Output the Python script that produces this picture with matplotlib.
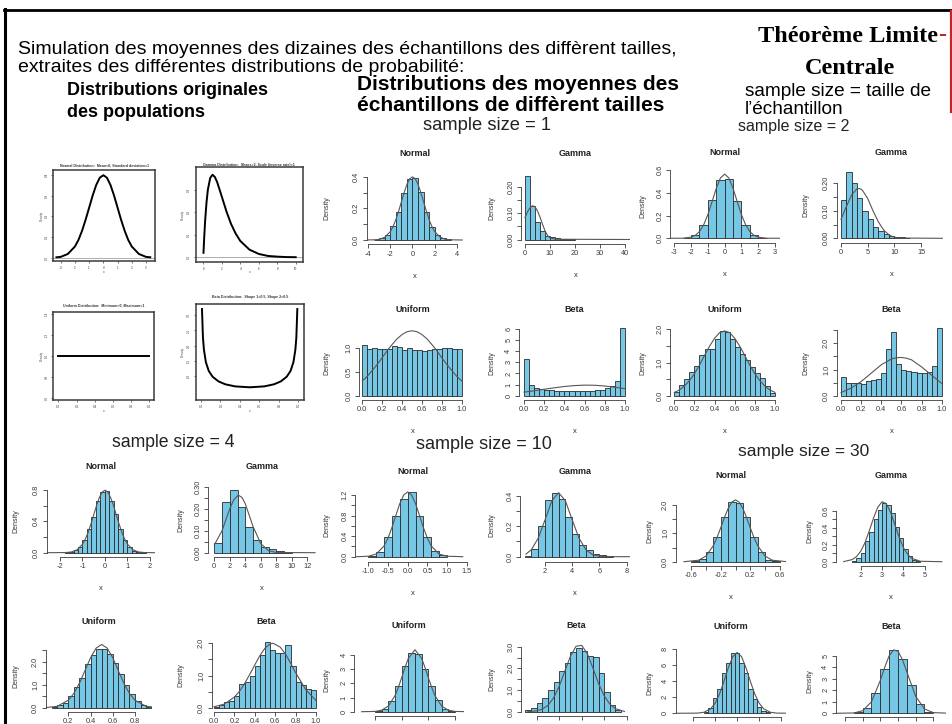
import matplotlib
matplotlib.use("Agg")
import matplotlib.pyplot as plt
from matplotlib.lines import Line2D

plt.rcParams['font.family'] = ['Liberation Sans', 'DejaVu Sans']

# ---------------------------------------------------------------- data
# courbes des populations d'origine
orig_normal_x = [-3.3, -3.0, -2.5, -2.0, -1.75, -1.5, -1.25, -1.0, -0.75, -0.5, -0.25, 0.0,
                 0.25, 0.5, 0.75, 1.0, 1.25, 1.5, 1.75, 2.0, 2.5, 3.0, 3.3]
orig_normal_y = [0.002, 0.004, 0.018, 0.054, 0.086, 0.130, 0.183, 0.242, 0.301, 0.352, 0.387, 0.399,
                 0.387, 0.352, 0.301, 0.242, 0.183, 0.130, 0.086, 0.054, 0.018, 0.004, 0.002]
orig_gamma_x = [0.02, 0.1, 0.2, 0.35, 0.5, 0.75, 1.0, 1.25, 1.5, 2.0, 2.5, 3.0, 3.5, 4.0, 5.0,
                6.0, 7.0, 8.0, 9.0, 10.0]
orig_gamma_y = [0.02, 0.09, 0.164, 0.246, 0.303, 0.354, 0.368, 0.358, 0.335, 0.271, 0.205, 0.149,
                0.106, 0.073, 0.034, 0.015, 0.006, 0.003, 0.001, 0.0005]
orig_uniform_x = [0.0, 1.0]
orig_uniform_y = [1.0, 1.0]
orig_beta_x = [0.01, 0.02, 0.03, 0.05, 0.08, 0.12, 0.18, 0.25, 0.35, 0.5, 0.65, 0.75, 0.82, 0.88,
               0.92, 0.95, 0.97, 0.98, 0.99]
orig_beta_y = [3.2, 2.27, 1.87, 1.46, 1.17, 0.98, 0.83, 0.735, 0.667, 0.637, 0.667, 0.735, 0.83,
               0.98, 1.17, 1.46, 1.87, 2.27, 3.2]

orig_titles = ["Normal Distribution:  Mean=0, Standard deviation=1",
               "Gamma Distribution:  Shape=2, Scale (inverse rate)=1",
               "Uniform Distribution:  Minimum=0, Maximum=1",
               "Beta Distribution:  Shape 1=0.5, Shape 2=0.5"]
orig_normal_xticks = ["-3", "-2", "-1", "0", "1", "2", "3"]
orig_normal_yticks = ["0.0", "0.1", "0.2", "0.3", "0.4"]
orig_gamma_xticks = ["0", "2", "4", "6", "8", "10"]
orig_gamma_yticks = ["0.0", "0.1", "0.2", "0.3"]
orig_uniform_xticks = ["0.0", "0.2", "0.4", "0.6", "0.8", "1.0"]
orig_uniform_yticks = ["0.6", "0.8", "1.0", "1.2", "1.4"]
orig_beta_xticks = ["0.0", "0.2", "0.4", "0.6", "0.8", "1.0"]
orig_beta_yticks = ["1.0", "1.5", "2.0", "2.5", "3.0"]

# histogrammes : bins = (début, largeur), dens = hauteurs, fit = courbe normale ajustée
# ticks : texte = graduation étiquetée, nombre = graduation sans étiquette
ss1_normal_bins = (-3.5, 0.5)
ss1_normal_dens = [0.003, 0.01, 0.033, 0.09, 0.18, 0.30, 0.385, 0.39, 0.305, 0.175, 0.08, 0.03, 0.01, 0.004]
ss1_normal_fit_x = [-4.6, -3.5, -3.0, -2.5, -2.0, -1.75, -1.5, -1.25, -1.0, -0.75, -0.5, -0.25, 0.0,
                    0.25, 0.5, 0.75, 1.0, 1.25, 1.5, 1.75, 2.0, 2.5, 3.0, 3.5, 4.5]
ss1_normal_fit_y = [0.0, 0.001, 0.004, 0.018, 0.054, 0.086, 0.13, 0.183, 0.242, 0.301, 0.352, 0.387, 0.399,
                    0.387, 0.352, 0.301, 0.242, 0.183, 0.13, 0.086, 0.054, 0.018, 0.004, 0.001, 0.0]
ss1_normal_xticks = ["-4", "-2", "0", "2", "4"]
ss1_normal_yticks = ["0.0", 0.1, "0.2", 0.3, "0.4"]

ss1_gamma_bins = (0, 2)
ss1_gamma_dens = [0.24, 0.127, 0.067, 0.033, 0.015, 0.008, 0.004, 0.003, 0.002, 0.002]
ss1_gamma_fit_x = [0, 1, 2, 3, 4, 5, 6, 7, 8, 9, 10, 12, 42]
ss1_gamma_fit_y = [0.083, 0.105, 0.12, 0.128, 0.124, 0.108, 0.085, 0.058, 0.033, 0.015, 0.006, 0.001, 0.0]
ss1_gamma_xticks = ["0", "10", "20", "30", "40"]
ss1_gamma_yticks = ["0.00", 0.05, "0.10", 0.15, "0.20"]

ss1_uniform_bins = (0, 0.05)
ss1_uniform_dens = [1.08, 0.99, 1.0, 0.98, 0.99, 0.98, 1.05, 1.02, 0.97, 1.0, 0.96, 0.96, 0.95, 0.96,
                    0.98, 0.98, 1.0, 1.0, 0.99, 0.99]
ss1_uniform_fit_x = [0.0, 0.05, 0.1, 0.15, 0.2, 0.25, 0.3, 0.35, 0.4, 0.45, 0.5, 0.55, 0.6, 0.65, 0.7,
                     0.75, 0.8, 0.85, 0.9, 0.95, 1.0]
ss1_uniform_fit_y = [0.31, 0.41, 0.53, 0.66, 0.8, 0.95, 1.08, 1.2, 1.29, 1.35, 1.37, 1.35, 1.29, 1.2,
                     1.08, 0.95, 0.8, 0.66, 0.53, 0.41, 0.31]
ss1_uniform_xticks = ["0.0", "0.2", "0.4", "0.6", "0.8", "1.0"]
ss1_uniform_yticks = ["0.0", "0.5", "1.0"]

ss1_beta_bins = (0, 0.05)
ss1_beta_dens = [3.3, 1.0, 0.65, 0.62, 0.55, 0.5, 0.45, 0.45, 0.42, 0.4, 0.4, 0.42, 0.45, 0.45, 0.5,
                 0.55, 0.72, 0.85, 1.3, 6.1]
ss1_beta_fit_x = [0.0, 0.1, 0.2, 0.3, 0.4, 0.5, 0.6, 0.7, 0.8, 0.9, 1.0]
ss1_beta_fit_y = [0.32, 0.44, 0.58, 0.71, 0.83, 0.91, 0.95, 0.94, 0.87, 0.76, 0.63]
ss1_beta_xticks = ["0.0", "0.2", "0.4", "0.6", "0.8", "1.0"]
ss1_beta_yticks = ["0", "1", "2", "3", "4", "5", "6"]

ss2_normal_bins = (-2.5, 0.5)
ss2_normal_dens = [0.005, 0.03, 0.12, 0.34, 0.51, 0.52, 0.33, 0.12, 0.03, 0.006]
ss2_normal_fit_x = [-3.4, -2.5, -2.0, -1.75, -1.5, -1.25, -1.0, -0.75, -0.5, -0.25, 0.0, 0.25, 0.5,
                    0.75, 1.0, 1.25, 1.5, 1.75, 2.0, 2.5, 3.4]
ss2_normal_fit_y = [0.0, 0.001, 0.01, 0.026, 0.059, 0.118, 0.208, 0.321, 0.439, 0.53, 0.564, 0.53,
                    0.439, 0.321, 0.208, 0.118, 0.059, 0.026, 0.01, 0.001, 0.0]
ss2_normal_xticks = ["-3", "-2", "-1", "0", "1", "2", "3"]
ss2_normal_yticks = ["0.0", "0.2", "0.4", "0.6"]

ss2_gamma_bins = (0, 1)
ss2_gamma_dens = [0.14, 0.24, 0.2, 0.145, 0.1, 0.07, 0.04, 0.025, 0.015, 0.01, 0.006, 0.004, 0.002]
ss2_gamma_fit_x = [0, 1, 2, 3, 3.5, 4, 5, 6, 7, 8, 9, 10, 11, 19]
ss2_gamma_fit_y = [0.069, 0.115, 0.158, 0.18, 0.181, 0.175, 0.145, 0.1, 0.06, 0.03, 0.012, 0.004, 0.001, 0.0]
ss2_gamma_xticks = ["0", "5", "10", "15"]
ss2_gamma_yticks = ["0.00", 0.05, "0.10", 0.15, "0.20"]

ss2_uniform_bins = (0, 0.05)
ss2_uniform_dens = [0.12, 0.32, 0.49, 0.7, 0.89, 1.23, 1.41, 1.41, 1.71, 1.95, 1.93, 1.72, 1.48, 1.26,
                    1.08, 0.87, 0.67, 0.52, 0.29, 0.07]
ss2_uniform_fit_x = [0.0, 0.05, 0.1, 0.15, 0.2, 0.25, 0.3, 0.35, 0.4, 0.45, 0.5, 0.55, 0.6, 0.65, 0.7,
                     0.75, 0.8, 0.85, 0.9, 0.95, 1.0]
ss2_uniform_fit_y = [0.1, 0.17, 0.29, 0.45, 0.66, 0.92, 1.21, 1.49, 1.73, 1.9, 1.95, 1.9, 1.73, 1.49,
                     1.21, 0.92, 0.66, 0.45, 0.29, 0.17, 0.1]
ss2_uniform_xticks = ["0.0", "0.2", "0.4", "0.6", "0.8", "1.0"]
ss2_uniform_yticks = ["0.0", 0.5, "1.0", 1.5, "2.0"]

ss2_beta_bins = (0, 0.05)
ss2_beta_dens = [0.7, 0.5, 0.5, 0.5, 0.45, 0.55, 0.6, 0.62, 0.85, 1.8, 2.45, 1.2, 1.0, 0.95, 0.9,
                 0.88, 0.85, 0.9, 1.15, 2.6]
ss2_beta_fit_x = [0.0, 0.1, 0.2, 0.3, 0.4, 0.5, 0.55, 0.6, 0.65, 0.7, 0.8, 0.9, 1.0]
ss2_beta_fit_y = [0.12, 0.29, 0.54, 0.86, 1.18, 1.4, 1.45, 1.46, 1.43, 1.37, 1.1, 0.78, 0.47]
ss2_beta_xticks = ["0.0", "0.2", "0.4", "0.6", "0.8", "1.0"]
ss2_beta_yticks = ["0.0", 0.5, "1.0", 1.5, "2.0", 2.5]

ss4_normal_bins = (-1.8, 0.2)
ss4_normal_dens = [0.003, 0.012, 0.03, 0.07, 0.16, 0.30, 0.46, 0.66, 0.77, 0.79, 0.66, 0.49, 0.30,
                   0.16, 0.07, 0.025, 0.01, 0.003]
ss4_normal_fit_x = [-2.6, -1.75, -1.5, -1.25, -1.0, -0.875, -0.75, -0.625, -0.5, -0.375, -0.25, -0.125,
                    0.0, 0.125, 0.25, 0.375, 0.5, 0.625, 0.75, 0.875, 1.0, 1.25, 1.5, 1.75, 2.2]
ss4_normal_fit_y = [0.0, 0.002, 0.009, 0.035, 0.108, 0.173, 0.259, 0.366, 0.484, 0.603, 0.704, 0.773,
                    0.798, 0.773, 0.704, 0.603, 0.484, 0.366, 0.259, 0.173, 0.108, 0.035, 0.009, 0.002, 0.0]
ss4_normal_xticks = ["-2", "-1", "0", "1", "2"]
ss4_normal_yticks = ["0.0", 0.2, "0.4", 0.6, "0.8"]

ss4_gamma_bins = (0, 1)
ss4_gamma_dens = [0.045, 0.23, 0.285, 0.21, 0.115, 0.06, 0.025, 0.015, 0.007, 0.004]
ss4_gamma_fit_x = [0, 1, 2, 2.5, 3.1, 3.6, 4, 5, 6, 7, 8, 13]
ss4_gamma_fit_y = [0.035, 0.1, 0.2, 0.24, 0.262, 0.25, 0.222, 0.119, 0.041, 0.009, 0.001, 0.0]
ss4_gamma_xticks = ["0", "2", "4", "6", "8", "10", "12"]
ss4_gamma_yticks = ["0.00", 0.05, "0.10", 0.15, "0.20", 0.25, "0.30"]

ss4_uniform_bins = (0.05, 0.05)
ss4_uniform_dens = [0.04, 0.1, 0.22, 0.5, 0.9, 1.3, 1.9, 2.3, 2.55, 2.55, 2.35, 1.95, 1.45, 1.0, 0.6,
                    0.3, 0.13, 0.04]
ss4_uniform_fit_x = [0.0, 0.1, 0.2, 0.25, 0.3, 0.35, 0.4, 0.45, 0.5, 0.55, 0.6, 0.65, 0.7, 0.75, 0.8,
                     0.9, 1.0]
ss4_uniform_fit_y = [0.007, 0.061, 0.324, 0.62, 1.06, 1.61, 2.17, 2.59, 2.75, 2.59, 2.17, 1.61, 1.06,
                     0.62, 0.324, 0.061, 0.007]
ss4_uniform_xticks = ["0.2", "0.4", "0.6", "0.8"]
ss4_uniform_yticks = ["0.0", 0.5, "1.0", 1.5, "2.0", 2.5]

ss4_beta_bins = (0, 0.05)
ss4_beta_dens = [0.03, 0.08, 0.17, 0.21, 0.36, 0.74, 0.81, 1.0, 1.28, 1.63, 2.04, 1.79, 1.69, 1.69,
                 1.95, 1.31, 0.8, 0.69, 0.57, 0.54]
ss4_beta_fit_x = [0.0, 0.1, 0.2, 0.25, 0.3, 0.35, 0.4, 0.45, 0.5, 0.55, 0.58, 0.65, 0.7, 0.75, 0.8,
                  0.9, 1.0]
ss4_beta_fit_y = [0.03, 0.11, 0.33, 0.51, 0.75, 1.03, 1.33, 1.62, 1.85, 1.98, 2.0, 1.88, 1.67, 1.39,
                  1.09, 0.56, 0.22]
ss4_beta_xticks = ["0.0", "0.2", "0.4", "0.6", "0.8", "1.0"]
ss4_beta_yticks = ["0.0", 0.5, "1.0", 1.5, "2.0"]

ss10_normal_bins = (-1.0, 0.2)
ss10_normal_dens = [0.01, 0.09, 0.38, 0.8, 1.13, 1.25, 0.8, 0.38, 0.11, 0.03]
ss10_normal_fit_x = [-1.3, -1.0, -0.8, -0.6, -0.5, -0.4, -0.3, -0.2, -0.1, 0.0, 0.1, 0.2, 0.3, 0.4,
                     0.5, 0.6, 0.8, 1.0, 1.4]
ss10_normal_fit_y = [0.0, 0.009, 0.051, 0.208, 0.361, 0.566, 0.803, 1.032, 1.199, 1.26, 1.199, 1.032,
                     0.803, 0.566, 0.361, 0.208, 0.051, 0.009, 0.0]
ss10_normal_xticks = ["-1.0", "-0.5", "0.0", "0.5", "1.0", "1.5"]
ss10_normal_yticks = ["0.0", 0.2, "0.4", 0.6, "0.8", 1.0, "1.2"]

ss10_gamma_bins = (0.5, 0.5)
ss10_gamma_dens = [0.005, 0.05, 0.2, 0.37, 0.42, 0.38, 0.26, 0.15, 0.08, 0.045, 0.02, 0.01, 0.005]
ss10_gamma_fit_x = [0.6, 1.0, 1.5, 2.0, 2.5, 3.0, 3.5, 4.0, 4.5, 5.0, 5.5, 6.0, 7.0, 8.2]
ss10_gamma_fit_y = [0.017, 0.046, 0.121, 0.241, 0.366, 0.42, 0.366, 0.241, 0.121, 0.046, 0.013, 0.003,
                    0.0, 0.0]
ss10_gamma_xticks = ["2", "4", "6", "8"]
ss10_gamma_yticks = ["0.0", 0.1, "0.2", 0.3, "0.4"]

ss10_uniform_bins = (0.2, 0.05)
ss10_uniform_dens = [0.05, 0.22, 0.72, 1.84, 3.2, 4.15, 4.1, 3.0, 1.82, 0.8, 0.22, 0.05]
ss10_uniform_fit_x = [0.1, 0.2, 0.25, 0.3, 0.35, 0.375, 0.4, 0.425, 0.45, 0.5, 0.55, 0.575, 0.6, 0.625,
                      0.65, 0.7, 0.75, 0.8, 0.9]
ss10_uniform_fit_y = [0.0, 0.02, 0.103, 0.397, 1.13, 1.71, 2.4, 3.12, 3.76, 4.37, 3.76, 3.12, 2.4, 1.71,
                      1.13, 0.397, 0.103, 0.02, 0.0]
ss10_uniform_xticks = [0.2, 0.4, 0.6, 0.8]
ss10_uniform_yticks = ["0", "1", "2", "3", "4"]

ss10_beta_bins = (0.1, 0.05)
ss10_beta_dens = [0.08, 0.18, 0.38, 0.62, 1.0, 1.38, 1.88, 2.23, 2.77, 2.92, 2.8, 2.57, 2.54, 1.77,
                  0.92, 0.3, 0.08]
ss10_beta_fit_x = [0.12, 0.2, 0.25, 0.3, 0.35, 0.4, 0.45, 0.5, 0.55, 0.6, 0.65, 0.7, 0.75, 0.8, 0.85,
                   0.9, 0.98]
ss10_beta_fit_y = [0.0, 0.04, 0.118, 0.293, 0.632, 1.17, 1.87, 2.56, 3.02, 3.06, 2.68, 2.01, 1.3, 0.73,
                   0.35, 0.14, 0.01]
ss10_beta_xticks = [0.2, 0.4, 0.6, 0.8, 1.0]
ss10_beta_yticks = ["0.0", 0.5, "1.0", 1.5, "2.0", 2.5, "3.0"]

ss30_normal_bins = (-0.6, 0.1)
ss30_normal_dens = [0.02, 0.08, 0.33, 0.86, 1.56, 2.09, 2.07, 1.56, 0.86, 0.33, 0.06, 0.02]
ss30_normal_fit_x = [-0.7, -0.5, -0.4, -0.3, -0.25, -0.2, -0.15, -0.1, -0.05, 0.0, 0.05, 0.1, 0.15,
                     0.2, 0.25, 0.3, 0.4, 0.5, 0.7]
ss30_normal_fit_y = [0.0, 0.052, 0.2, 0.57, 0.857, 1.2, 1.56, 1.88, 2.1, 2.18, 2.1, 1.88, 1.56, 1.2,
                     0.857, 0.57, 0.2, 0.052, 0.0]
ss30_normal_xticks = ["-0.6", -0.4, "-0.2", 0.0, "0.2", 0.4, "0.6"]
ss30_normal_yticks = ["0.0", 0.5, "1.0", 1.5, "2.0"]

ss30_gamma_bins = (1.6, 0.2)
ss30_gamma_dens = [0.01, 0.047, 0.1, 0.24, 0.35, 0.5, 0.61, 0.7, 0.67, 0.58, 0.41, 0.28, 0.15, 0.07,
                   0.02, 0.01]
ss30_gamma_fit_x = [1.2, 1.6, 1.8, 2.0, 2.2, 2.4, 2.6, 2.8, 3.0, 3.2, 3.4, 3.6, 3.8, 4.0, 4.2, 4.4,
                    4.8, 5.8]
ss30_gamma_fit_y = [0.001, 0.025, 0.059, 0.123, 0.225, 0.363, 0.515, 0.644, 0.709, 0.687, 0.586, 0.439,
                    0.29, 0.168, 0.087, 0.039, 0.005, 0.0]
ss30_gamma_xticks = ["2", "3", "4", "5"]
ss30_gamma_yticks = ["0.0", 0.1, "0.2", 0.3, "0.4", 0.5, "0.6"]

ss30_uniform_bins = (0.35, 0.02)
ss30_uniform_dens = [0.1, 0.6, 1.9, 3.0, 5.0, 6.3, 7.5, 7.5, 6.3, 5.0, 3.0, 1.8, 0.8, 0.3, 0.1]
ss30_uniform_fit_x = [0.2, 0.32, 0.35, 0.38, 0.4, 0.42, 0.44, 0.46, 0.48, 0.5, 0.52, 0.54, 0.56, 0.58,
                      0.6, 0.62, 0.65, 0.68, 0.8]
ss30_uniform_fit_y = [0.0, 0.022, 0.132, 0.567, 1.25, 2.39, 3.96, 5.67, 7.04, 7.57, 7.04, 5.67, 3.96,
                      2.39, 1.25, 0.567, 0.132, 0.022, 0.0]
ss30_uniform_xticks = [0.3, 0.4, 0.5, 0.6, 0.7]
ss30_uniform_yticks = ["0", "2", "4", "6", "8"]

ss30_beta_bins = (0.25, 0.05)
ss30_beta_dens = [0.08, 0.5, 1.75, 3.85, 5.5, 4.7, 2.45, 0.8, 0.15]
ss30_beta_fit_x = [0.15, 0.25, 0.3, 0.35, 0.4, 0.425, 0.45, 0.475, 0.5, 0.525, 0.55, 0.6, 0.65, 0.7, 0.8]
ss30_beta_fit_y = [0.0, 0.03, 0.22, 1.0, 2.85, 4.0, 4.99, 5.5, 5.39, 4.67, 3.6, 1.48, 0.376, 0.06, 0.0]
ss30_beta_xticks = [0.2, 0.3, 0.4, 0.5, 0.6, 0.7]
ss30_beta_yticks = ["0", "1", "2", "3", "4", "5"]

# ---------------------------------------------------------------- mise en page (pixels)
W, H = 953, 724
BAR = "#76c6e6"
EDGE = "#2a2a2a"
FIT = "#5b5555"
AXC = "#3a3a3a"

fig = plt.figure(figsize=(W / 100, H / 100), dpi=100)
fig.patch.set_facecolor("white")


def fx(px):
    return px / W


def fy(py):
    return 1 - py / H


def make_axes(box, xcal, ycal):
    L, R, T, B = box
    (xv0, xp0), (xv1, xp1) = xcal
    sx = (xp1 - xp0) / (xv1 - xv0)
    (yv0, yp0), (yv1, yp1) = ycal
    sy = (yp0 - yp1) / (yv1 - yv0)
    ax = fig.add_axes([fx(L), fy(B), (R - L) / W, (B - T) / H])
    ax.set_xlim(xv0 + (L - xp0) / sx, xv0 + (R - xp0) / sx)
    ax.set_ylim(yv0 - (B - yp0) / sy, yv0 + (yp0 - T) / sy)
    ax.patch.set_visible(False)
    return ax


def split_ticks(spec):
    return [float(t) for t in spec], [t if isinstance(t, str) else "" for t in spec]


def set_ticks(ax, xt, yt, size, length, lw):
    xp, xl = split_ticks(xt)
    yp, yl = split_ticks(yt)
    ax.set_xticks(xp)
    ax.set_xticklabels(xl)
    ax.set_yticks(yp)
    ax.set_yticklabels(yl)
    ax.tick_params(direction="out", length=length, width=lw, colors=AXC, labelsize=size, pad=1.8)
    ax.tick_params(axis="y", labelrotation=90)
    for lab in ax.get_yticklabels():
        lab.set_va("center")
    return xp, yp


def hist_panel(title, bins, dens, fit_x, fit_y, xt, yt, box, xcal, ycal, dens_x):
    L, R, T, B = box
    ax = make_axes(box, xcal, ycal)
    start, width = bins
    lefts = [start + i * width for i in range(len(dens))]
    ax.bar(lefts, dens, width=width, align="edge", color=BAR, edgecolor=EDGE, linewidth=0.6)
    ax.plot(fit_x, fit_y, color=FIT, lw=0.8)
    xp, yp = set_ticks(ax, xt, yt, 5.3, 3, 0.6)
    for s in ("top", "right"):
        ax.spines[s].set_visible(False)
    for s in ("left", "bottom"):
        ax.spines[s].set_color(AXC)
        ax.spines[s].set_linewidth(0.6)
    ax.spines["bottom"].set_bounds(xp[0], xp[-1])
    ax.spines["left"].set_bounds(yp[0], yp[-1])
    cx = (L + R) / 2
    fig.text(fx(cx), fy(B - 90.5), title, ha="center", va="center", fontsize=6.5,
             fontweight="bold", color="#222222")
    fig.text(fx(dens_x), fy((T + B) / 2), "Density", rotation=90, ha="center", va="center",
             fontsize=5, color="#333333")
    if B + 32 < H:
        fig.text(fx(cx), fy(B + 32), "x", ha="center", va="center", fontsize=5.5, color="#333333")


def orig_panel(title, cx_, cy_, xt, yt, box, xcal, ycal, title_y, dens_x, xlab_y, base=True):
    L, R, T, B = box
    ax = make_axes(box, xcal, ycal)
    if base:
        ax.axhline(0, color="#a0a0a0", lw=0.6)
    ax.plot(cx_, cy_, color="black", lw=1.4)
    set_ticks(ax, xt, yt, 2.2, 1.5, 0.5)
    for s in ax.spines.values():
        s.set_color("#3a3a3a")
        s.set_linewidth(1.1)
    fig.text(fx((L + R) / 2), fy(title_y), title, ha="center", va="center", fontsize=2.6,
             fontweight="bold", color="#333333")
    fig.text(fx(dens_x), fy((T + B) / 2), "Density", rotation=90, ha="center", va="center",
             fontsize=2.2, color="#444444")
    fig.text(fx((L + R) / 2), fy(xlab_y), "x", ha="center", va="center", fontsize=2.4, color="#444444")


# populations d'origine
orig_panel(orig_titles[0], orig_normal_x, orig_normal_y, orig_normal_xticks, orig_normal_yticks,
           (53.3, 155, 170, 261), ((-3, 60.7), (3, 146)), ((0, 257.7), (0.4, 175)), 165, 41.7, 272)
orig_panel(orig_titles[1], orig_gamma_x, orig_gamma_y, orig_gamma_xticks, orig_gamma_yticks,
           (195.7, 303, 167, 262), ((0, 203.3), (10, 295.7)), ((0, 257.3), (0.3, 190)), 165, 183, 272)
orig_panel(orig_titles[2], orig_uniform_x, orig_uniform_y, orig_uniform_xticks, orig_uniform_yticks,
           (53.3, 154, 311.7, 400), ((0, 58.3), (1, 149.3)), ((0.6, 398.3), (1.4, 314.3)), 305, 41.7, 411,
           base=False)
orig_panel(orig_titles[3], orig_beta_x, orig_beta_y, orig_beta_xticks, orig_beta_yticks,
           (195.7, 304, 304.3, 400), ((0, 201), (1, 298.3)), ((0.637, 387.3), (3.2, 309)), 296.7, 183, 411,
           base=False)

panels = [
    ("Normal", ss1_normal_bins, ss1_normal_dens, ss1_normal_fit_x, ss1_normal_fit_y, ss1_normal_xticks,
     ss1_normal_yticks, (366.7, 463, 172, 244), ((-4, 368.3), (4, 456.7)), ((0, 240), (0.4, 176.7)), 327),
    ("Gamma", ss1_gamma_bins, ss1_gamma_dens, ss1_gamma_fit_x, ss1_gamma_fit_y, ss1_gamma_xticks,
     ss1_gamma_yticks, (521, 630, 172, 243.5), ((0, 525), (40, 625)), ((0, 239.5), (0.2, 186.7)), 492),
    ("Uniform", ss1_uniform_bins, ss1_uniform_dens, ss1_uniform_fit_x, ss1_uniform_fit_y,
     ss1_uniform_xticks, ss1_uniform_yticks, (359, 466, 326, 399.5), ((0, 362.3), (1, 461.7)),
     ((0, 395.7), (1, 348.3)), 327),
    ("Beta", ss1_beta_bins, ss1_beta_dens, ss1_beta_fit_x, ss1_beta_fit_y, ss1_beta_xticks,
     ss1_beta_yticks, (519, 630, 326, 399.5), ((0, 524), (1, 625)), ((0, 395.7), (6, 329)), 492),
    ("Normal", ss2_normal_bins, ss2_normal_dens, ss2_normal_fit_x, ss2_normal_fit_y, ss2_normal_xticks,
     ss2_normal_yticks, (670, 780, 170, 242.7), ((-3, 674.3), (3, 775)), ((0, 238.3), (0.6, 170)), 643),
    ("Gamma", ss2_gamma_bins, ss2_gamma_dens, ss2_gamma_fit_x, ss2_gamma_fit_y, ss2_gamma_xticks,
     ss2_gamma_yticks, (836.7, 946, 168, 242.7), ((0, 841), (15, 921)), ((0, 238.3), (0.2, 183.3)), 806),
    ("Uniform", ss2_uniform_bins, ss2_uniform_dens, ss2_uniform_fit_x, ss2_uniform_fit_y,
     ss2_uniform_xticks, ss2_uniform_yticks, (670, 779, 326, 399.5), ((0, 674.3), (1, 775)),
     ((0, 395.7), (2, 329.3)), 643),
    ("Beta", ss2_beta_bins, ss2_beta_dens, ss2_beta_fit_x, ss2_beta_fit_y, ss2_beta_xticks,
     ss2_beta_yticks, (836.7, 946, 326, 399.5), ((0, 841), (1, 941.7)), ((0, 395.7), (2, 343.3)), 806),
    ("Normal", ss4_normal_bins, ss4_normal_dens, ss4_normal_fit_x, ss4_normal_fit_y, ss4_normal_xticks,
     ss4_normal_yticks, (46.7, 155, 485, 556.7), ((-2, 60), (2, 150)), ((0, 552.7), (0.8, 490)), 16),
    ("Gamma", ss4_gamma_bins, ss4_gamma_dens, ss4_gamma_fit_x, ss4_gamma_fit_y, ss4_gamma_xticks,
     ss4_gamma_yticks, (208.3, 316, 484, 556.7), ((0, 214.3), (12, 307.3)), ((0, 552.7), (0.3, 486.7)), 181),
    ("Uniform", ss4_uniform_bins, ss4_uniform_dens, ss4_uniform_fit_x, ss4_uniform_fit_y,
     ss4_uniform_xticks, ss4_uniform_yticks, (45.7, 152, 640, 711.7), ((0.2, 68.3), (0.8, 135)),
     ((0, 707.7), (2, 661.7)), 16),
    ("Beta", ss4_beta_bins, ss4_beta_dens, ss4_beta_fit_x, ss4_beta_fit_y, ss4_beta_xticks,
     ss4_beta_yticks, (211.7, 320, 638, 711.7), ((0, 214), (1, 316)), ((0, 707.7), (2, 643.3)), 181),
    ("Normal", ss10_normal_bins, ss10_normal_dens, ss10_normal_fit_x, ss10_normal_fit_y,
     ss10_normal_xticks, ss10_normal_yticks, (355, 470, 488, 561.7), ((-1, 368.3), (1.5, 466.7)),
     ((0, 556.7), (1.2, 495)), 327),
    ("Gamma", ss10_gamma_bins, ss10_gamma_dens, ss10_gamma_fit_x, ss10_gamma_fit_y, ss10_gamma_xticks,
     ss10_gamma_yticks, (520, 630, 488, 561.7), ((2, 545), (8, 626.7)), ((0, 556.7), (0.4, 495.7)), 492),
    ("Uniform", ss10_uniform_bins, ss10_uniform_dens, ss10_uniform_fit_x, ss10_uniform_fit_y,
     ss10_uniform_xticks, ss10_uniform_yticks, (354.3, 464, 645, 716), ((0.2, 375), (0.8, 455)),
     ((0, 711.7), (4, 655)), 327),
    ("Beta", ss10_beta_bins, ss10_beta_dens, ss10_beta_fit_x, ss10_beta_fit_y, ss10_beta_xticks,
     ss10_beta_yticks, (521, 632, 642, 716), ((0.2, 536.7), (1.0, 626.7)), ((0, 711.7), (3, 646.7)), 492),
    ("Normal", ss30_normal_bins, ss30_normal_dens, ss30_normal_fit_x, ss30_normal_fit_y,
     ss30_normal_xticks, ss30_normal_yticks, (675.7, 786, 496, 565.7), ((-0.6, 691.3), (0.6, 779.7)),
     ((0, 561.7), (2, 505)), 650),
    ("Gamma", ss30_gamma_bins, ss30_gamma_dens, ss30_gamma_fit_x, ss30_gamma_fit_y, ss30_gamma_xticks,
     ss30_gamma_yticks, (836.3, 945, 497, 565.7), ((2, 860.7), (5, 924.7)), ((0, 561.7), (0.6, 511)), 810),
    ("Uniform", ss30_uniform_bins, ss30_uniform_dens, ss30_uniform_fit_x, ss30_uniform_fit_y,
     ss30_uniform_xticks, ss30_uniform_yticks, (675.7, 786, 648, 717.3), ((0.3, 693), (0.7, 781.3)),
     ((0, 713.3), (8, 649)), 650),
    ("Beta", ss30_beta_bins, ss30_beta_dens, ss30_beta_fit_x, ss30_beta_fit_y, ss30_beta_xticks,
     ss30_beta_yticks, (836, 946, 645, 717.3), ((0.2, 845), (0.7, 933.3)), ((0, 713.3), (5, 655.7)), 810),
]
for p in panels:
    hist_panel(*p)

# ---------------------------------------------------------------- textes de la diapositive (lignes de base)
fig.text(fx(18), fy(53.5), "Simulation des moyennes des dizaines des échantillons des diffèrent tailles,",
         fontsize=14, va="baseline", ha="left")
fig.text(fx(18), fy(72.5), "extraites des différentes distributions de probabilité:",
         fontsize=14, va="baseline", ha="left")
fig.text(fx(66.7), fy(95), "Distributions originales", fontsize=13, fontweight="bold", va="baseline")
fig.text(fx(66.7), fy(117), "des populations", fontsize=13, fontweight="bold", va="baseline")
fig.text(fx(357), fy(90.5), "Distributions des moyennes des", fontsize=15, fontweight="bold",
         va="baseline")
fig.text(fx(357), fy(111), "échantillons de diffèrent tailles", fontsize=15, fontweight="bold",
         va="baseline")
fig.text(fx(745), fy(95.5), "sample size = taille de", fontsize=13.7, va="baseline")
fig.text(fx(745), fy(113.5), "l’échantillon", fontsize=13.7, va="baseline")

serif = ["Liberation Serif", "DejaVu Serif"]
fig.text(fx(938), fy(41.5), "Théorème Limite", family=serif, fontsize=17.5, fontweight="bold",
         ha="right", va="baseline")
fig.text(fx(938), fy(41.5), "-", family=serif, fontsize=17.5, fontweight="bold", color="#c0272d",
         ha="left", va="baseline")
fig.text(fx(850), fy(74.5), "Centrale", family=serif, fontsize=17.5, fontweight="bold",
         ha="center", va="baseline")

fig.text(fx(487), fy(130), "sample size = 1", fontsize=13.2, ha="center", va="baseline", color="#222222")
fig.text(fx(738), fy(131), "sample size = 2", fontsize=11.5, ha="left", va="baseline", color="#222222")
fig.text(fx(173), fy(447), "sample size = 4", fontsize=12.7, ha="center", va="baseline", color="#222222")
fig.text(fx(484), fy(449), "sample size = 10", fontsize=13, ha="center", va="baseline", color="#222222",
         bbox=dict(facecolor="white", edgecolor="none", pad=2.5))
fig.text(fx(804), fy(456), "sample size = 30", fontsize=12.5, ha="center", va="baseline",
         color="#222222")

# cadre de la diapositive
fig.add_artist(Line2D([fx(4), fx(953)], [fy(9.5), fy(9.5)], color="black", lw=2.0,
                      transform=fig.transFigure))
fig.add_artist(Line2D([fx(5.5), fx(5.5)], [fy(9), fy(724)], color="black", lw=2.2,
                      transform=fig.transFigure))
fig.add_artist(Line2D([fx(951), fx(951)], [fy(11), fy(112)], color="#c0272d", lw=1.6,
                      transform=fig.transFigure))

fig.savefig("out.png", dpi=100)
